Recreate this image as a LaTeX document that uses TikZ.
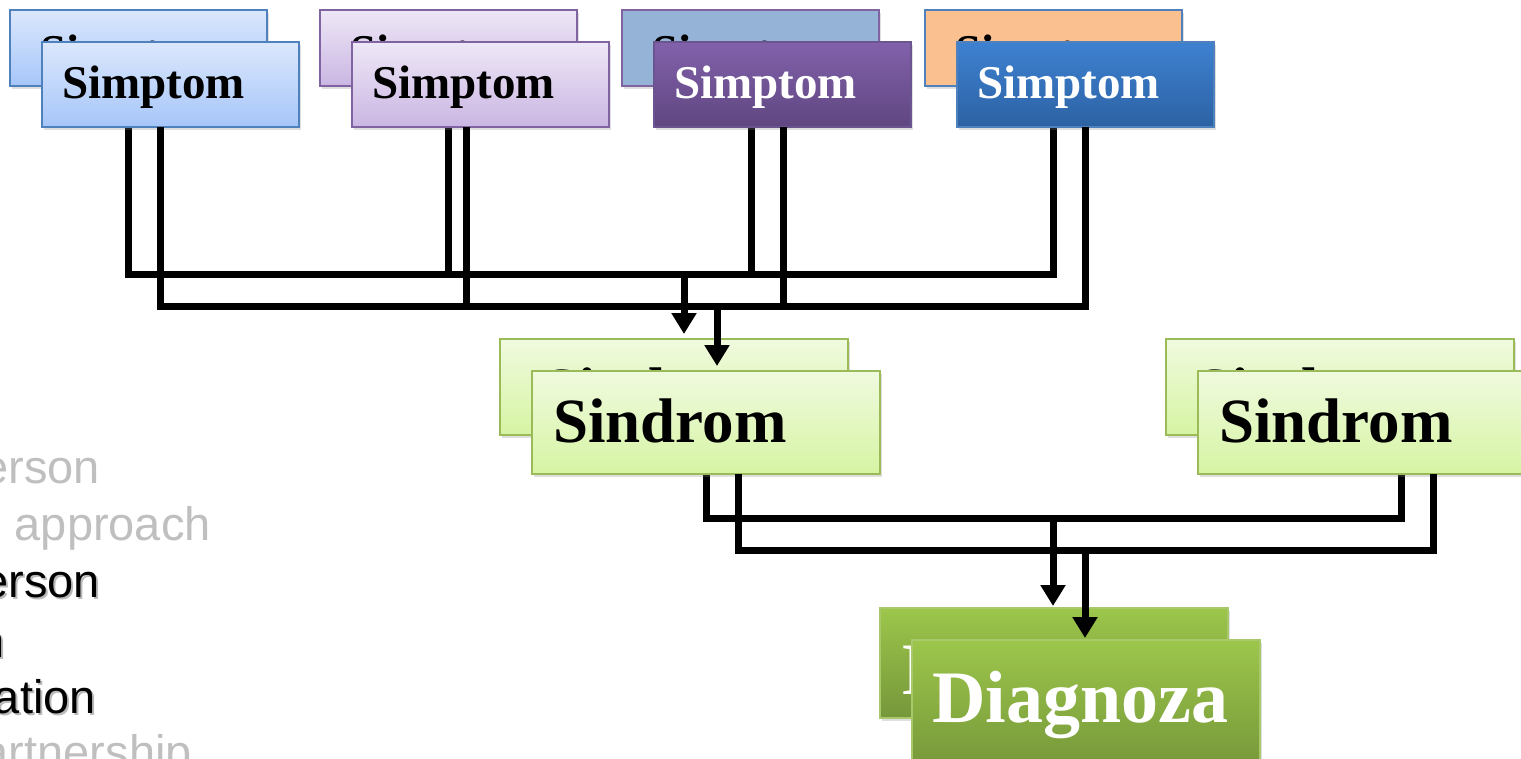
\documentclass[tikz,border=0pt]{standalone}
\usepackage{fontspec}
\setmainfont{Liberation Serif}
\newfontfamily\arialf{Liberation Sans}
\usetikzlibrary{arrows.meta,shadows}
\definecolor{bAt}{HTML}{DBE7FC}\definecolor{bAb}{HTML}{A6C6F9}\definecolor{bAd}{HTML}{4F81BD}
\definecolor{bBt}{HTML}{EEE7F6}\definecolor{bBb}{HTML}{CAB6E3}\definecolor{bBd}{HTML}{8064A2}
\definecolor{bCt}{HTML}{8261AB}\definecolor{bCb}{HTML}{5F4680}\definecolor{bCd}{HTML}{6B5591}
\definecolor{bCback}{HTML}{95B3D7}
\definecolor{bDt}{HTML}{3E81D1}\definecolor{bDb}{HTML}{2C62A3}\definecolor{bDd}{HTML}{4F81BD}
\definecolor{bDback}{HTML}{FAC090}
\definecolor{sgt}{HTML}{F0FADF}\definecolor{sgb}{HTML}{D6F4A3}\definecolor{sgd}{HTML}{9BBB59}
\definecolor{dgt}{HTML}{9CC64B}\definecolor{dgb}{HTML}{76973A}\definecolor{dgd}{HTML}{A9C86A}
\definecolor{graytxt}{HTML}{BFBFBF}
\tikzset{
  box/.style={rectangle, inner sep=0pt, outer sep=0pt, anchor=north west, line width=1.3pt,
    drop shadow={opacity=0.25, shadow xshift=2pt, shadow yshift=-3pt}},
  simpbox/.style={box, minimum width=257pt, minimum height=#1},
  sinbox/.style={box, minimum width=348pt, minimum height=#1},
  simptxt/.style={font=\bfseries\fontsize{47}{50}\selectfont, inner sep=0pt, anchor=base west},
  sintxt/.style={font=\bfseries\fontsize{63}{66}\selectfont, inner sep=0pt, anchor=base west},
  diatxt/.style={font=\bfseries\fontsize{74}{78}\selectfont, inner sep=0pt, anchor=base west, text=white},
  bgtxt/.style={font=\arialf\fontsize{47}{50}\selectfont, inner sep=0pt, anchor=base east},
  conn/.style={line width=7pt, line join=miter, black},
  arr/.style={conn, -{Triangle[width=24pt,length=21pt]}},
  green/.style={top color=sgt, bottom color=sgb, draw=sgd},
  dgreen/.style={top color=dgt, bottom color=dgb, draw=dgd}
}
\begin{document}
\begin{tikzpicture}[x=1pt,y=-1pt]
\useasboundingbox (0,0) rectangle (1521,758);
\clip (0,0) rectangle (1521,758);

% background slide text fragments
\node[bgtxt, text=graytxt] (g1) at (100,483) {erson};
\node[bgtxt, text=graytxt] (g2) at (211,540) {approach};
\node[bgtxt, text=black!45, opacity=0.6] (k1s) at (102,599) {erson};
\node[bgtxt] (k1) at (100,597) {erson};
\node[bgtxt, text=black!45, opacity=0.6] (k2s) at (7,659) {n};
\node[bgtxt] (k2) at (5,657) {n};
\node[bgtxt, text=black!45, opacity=0.6] (k3s) at (98,715) {ation};
\node[bgtxt] (k3) at (96,713) {ation};
\node[bgtxt, text=graytxt] (g3) at (192,768) {artnership};

% back symptom boxes
\node[simpbox=76pt, top color=bAt, bottom color=bAb, draw=bAd] (s1b) at (10,10) {};
\node[simptxt] (t1b) at (40,67) {Simptom};
\node[simpbox=76pt, top color=bBt, bottom color=bBb, draw=bBd] (s2b) at (320,10) {};
\node[simptxt] (t2b) at (350,67) {Simptom};
\node[simpbox=76pt, fill=bCback, draw=bBd] (s3b) at (622,10) {};
\node[simptxt] (t3b) at (652,67) {Simptom};
\node[simpbox=76pt, fill=bDback, draw=bDd] (s4b) at (925,10) {};
\node[simptxt] (t4b) at (955,67) {Simptom};

% back connectors (top)
\coordinate (ja) at (128,274);
\coordinate (jb) at (448,274);
\coordinate (jc) at (751,274);
\coordinate (jd) at (1053,274);
\coordinate (ma) at (684,274);
\draw[conn] (s1b.south -| ja) -- (ja) -- (jd) -- (s4b.south -| jd);
\draw[conn] (s2b.south -| jb) -- (jb);
\draw[conn] (s3b.south -| jc) -- (jc);

% front symptom boxes
\node[simpbox=85pt, top color=bAt, bottom color=bAb, draw=bAd] (s1) at (42,42) {};
\node[simptxt] (t1) at (62,98) {Simptom};
\node[simpbox=85pt, top color=bBt, bottom color=bBb, draw=bBd] (s2) at (352,42) {};
\node[simptxt] (t2) at (372,98) {Simptom};
\node[simpbox=85pt, top color=bCt, bottom color=bCb, draw=bCd] (s3) at (654,42) {};
\node[simptxt, text=white] (t3) at (674,98) {Simptom};
\node[simpbox=85pt, top color=bDt, bottom color=bDb, draw=bDd] (s4) at (957,42) {};
\node[simptxt, text=white] (t4) at (977,98) {Simptom};

% back syndrome boxes
\node[sinbox=96pt, green] (n1b) at (500,339) {};
\node[sintxt] (u1b) at (543,411) {Sindrom};
\node[sinbox=96pt, green] (n2b) at (1166,339) {};
\node[sintxt] (u2b) at (1196,411) {Sindrom};
\draw[arr, shorten >=5pt] (ma) -- (n1b.north -| ma);

% front connectors (top)
\coordinate (ka) at (160,306);
\coordinate (kb) at (466,306);
\coordinate (kc) at (783,306);
\coordinate (kd) at (1085,306);
\coordinate (mb) at (717,306);
\draw[conn] (s1.south -| ka) -- (ka) -- (kd) -- (s4.south -| kd);
\draw[conn] (s2.south -| kb) -- (kb);
\draw[conn] (s3.south -| kc) -- (kc);

% back connectors (middle)
\coordinate (la) at (706,518);
\coordinate (lb) at (1401,518);
\coordinate (mc) at (1053,518);
\draw[conn] (n1b.south -| la) -- (la) -- (lb) -- (n2b.south -| lb);

% back diagnosis box
\node[sinbox=110pt, dgreen] (d1b) at (880,608) {};
\node[diatxt] (v1b) at (902,694) {Diagnoza};
\draw[arr, shorten >=2pt] (mc) -- (d1b.north -| mc);

% front syndrome boxes
\node[sinbox=103pt, green] (n1) at (532,371) {};
\node[sintxt] (u1) at (553,442) {Sindrom};
\node[sinbox=103pt, green] (n2) at (1198,371) {};
\node[sintxt] (u2) at (1219,442) {Sindrom};
\draw[arr, shorten >=5pt] (mb) -- (n1.north -| mb);

% front connectors (middle)
\coordinate (na) at (738,550);
\coordinate (nb) at (1433,550);
\coordinate (md) at (1085,550);
\draw[conn] (n1.south -| na) -- (na) -- (nb) -- (n2.south -| nb);

% front diagnosis box
\node[sinbox=130pt, dgreen] (d1) at (912,640) {};
\node[diatxt] (v1) at (932,722) {Diagnoza};
\draw[arr, shorten >=2pt] (md) -- (d1.north -| md);
\end{tikzpicture}
\end{document}
